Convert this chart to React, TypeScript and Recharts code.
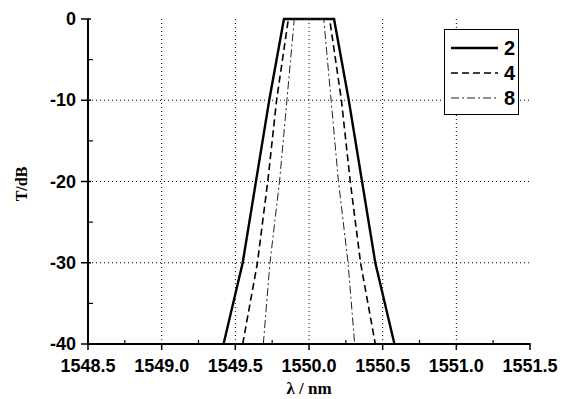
import { LineChart, Line, XAxis, YAxis, CartesianGrid, Legend, Label } from "recharts"

// transmission levels (dB) shared by every curve, left edge -> top -> right edge
const transmissionDb = [-40, -30, -20, -10, 0, 0, -10, -20, -30, -40]

// wavelength (nm) where each curve crosses those levels
const wavelength2 = [1549.42, 1549.55, 1549.64, 1549.73, 1549.83, 1550.17, 1550.27, 1550.36, 1550.45, 1550.58]
const wavelength4 = [1549.55, 1549.65, 1549.72, 1549.78, 1549.86, 1550.14, 1550.22, 1550.28, 1550.35, 1550.45]
const wavelength8 = [1549.69, 1549.735, 1549.8, 1549.85, 1549.9, 1550.1, 1550.15, 1550.2, 1550.265, 1550.31]

const xMajorTicks = [1548.5, 1549.0, 1549.5, 1550.0, 1550.5, 1551.0, 1551.5]
const xMinorTicks = [1548.75, 1549.25, 1549.75, 1550.25, 1550.75, 1551.25]
const yMajorTicks = [0, -10, -20, -30, -40]
const yMinorTicks = [-5, -15, -25, -35]
const xGrid = [1549.0, 1549.5, 1550.0, 1550.5, 1551.0]
const yGrid = [-10, -20, -30]

const toRows = (wl: number[]) => wl.map((w, i) => ({ wl: w, t: transmissionDb[i] }))

const series = [
  { name: "2", data: toRows(wavelength2), width: 2.4, dash: undefined as string | undefined, color: "#000" },
  { name: "4", data: toRows(wavelength4), width: 1.6, dash: "7 4", color: "#000" },
  { name: "8", data: toRows(wavelength8), width: 1, dash: "8 3 2 3", color: "#222" },
]

const tickFont = { fontFamily: "'Liberation Sans', Arial, sans-serif", fontWeight: 700, fontSize: 18 }
const titleFont = { fontFamily: "'Liberation Serif', 'Times New Roman', serif", fontWeight: 700 }

const XTick = ({ x, y, payload }: any) => {
  const major = xMajorTicks.includes(payload.value)
  return (
    <g>
      {major ? (
        <line x1={x} x2={x} y1={y - 1} y2={y + 6} stroke="#000" strokeWidth={1.5} />
      ) : (
        <line x1={x} x2={x} y1={y} y2={y - 4} stroke="#000" strokeWidth={1.2} />
      )}
      {major && (
        <text x={x} y={y + 28} textAnchor="middle" fill="#000" {...tickFont}>
          {payload.value.toFixed(1)}
        </text>
      )}
    </g>
  )
}

const YTick = ({ x, y, payload }: any) => {
  const major = yMajorTicks.includes(payload.value)
  return (
    <g>
      {major ? (
        <line x1={x - 7} x2={x + 3} y1={y} y2={y} stroke="#000" strokeWidth={1.5} />
      ) : (
        <line x1={x} x2={x + 5} y1={y} y2={y} stroke="#000" strokeWidth={1.2} />
      )}
      {major && (
        <text x={x - 12} y={y + 6} textAnchor="end" fill="#000" {...tickFont}>
          {payload.value}
        </text>
      )}
    </g>
  )
}

const XTitle = ({ viewBox }: any) => (
  <text x={viewBox.x + viewBox.width / 2} y={viewBox.y + 50} textAnchor="middle" fontSize={17} fill="#000" {...titleFont}>
    λ / nm
  </text>
)

const YTitle = ({ viewBox }: any) => {
  const cx = viewBox.x + 19
  const cy = 176
  return (
    <text x={cx} y={cy} textAnchor="middle" fontSize={16} fill="#000" transform={`rotate(-90 ${cx} ${cy})`} {...titleFont}>
      T/dB
    </text>
  )
}

const LegendBox = () => (
  <div style={{ width: 73, height: 84, border: "1.5px solid #000", background: "#fff", boxSizing: "content-box" }}>
    <svg width={73} height={84}>
      {series.map((s, i) => (
        <g key={s.name}>
          <line x1={6} x2={53} y1={18 + i * 25} y2={18 + i * 25} stroke={s.color} strokeWidth={s.width} strokeDasharray={s.dash} />
          <text x={59} y={25 + i * 25} fill="#000" {...tickFont} fontSize={20}>
            {s.name}
          </text>
        </g>
      ))}
    </svg>
  </div>
)

export default function App() {
  return (
    <LineChart width={560} height={391} margin={{ top: 11, right: 38, bottom: 0, left: 0 }}>
      <CartesianGrid
        horizontalValues={yGrid}
        verticalValues={xGrid}
        strokeDasharray="1 3"
        stroke="#000"
      />
      <XAxis
        dataKey="wl"
        type="number"
        domain={[1548.5, 1551.5]}
        ticks={[...xMajorTicks, ...xMinorTicks].sort((a, b) => a - b)}
        interval={0}
        height={55}
        tickSize={0}
        tickMargin={0}
        tickLine={false}
        tick={<XTick />}
        axisLine={{ stroke: "#000", strokeWidth: 2 }}
        allowDuplicatedCategory={false}
      >
        <Label content={<XTitle />} />
      </XAxis>
      <XAxis xAxisId="top" orientation="top" type="number" domain={[1548.5, 1551.5]} height={0} tick={false} tickLine={false} axisLine={{ stroke: "#333", strokeWidth: 1 }} />
      <YAxis
        dataKey="t"
        type="number"
        domain={[-40, 0]}
        ticks={[...yMajorTicks, ...yMinorTicks].sort((a, b) => b - a)}
        interval={0}
        width={80}
        tickSize={0}
        tickMargin={0}
        tickLine={false}
        tick={<YTick />}
        axisLine={{ stroke: "#000", strokeWidth: 2 }}
      >
        <Label content={<YTitle />} />
      </YAxis>
      <YAxis yAxisId="right" orientation="right" type="number" domain={[-40, 0]} width={0} tick={false} tickLine={false} axisLine={{ stroke: "#333", strokeWidth: 1 }} />
      <Legend
        layout="vertical"
        align="center"
        verticalAlign="middle"
        content={<LegendBox />}
        wrapperStyle={{ left: 436, top: 21, width: 76, height: 87 }}
      />
      {series.map((s) => (
        <Line
          key={s.name}
          name={s.name}
          data={s.data}
          dataKey="t"
          type="linear"
          stroke={s.color}
          strokeWidth={s.width}
          strokeDasharray={s.dash}
          dot={false}
          isAnimationActive={false}
        />
      ))}
    </LineChart>
  )
}
